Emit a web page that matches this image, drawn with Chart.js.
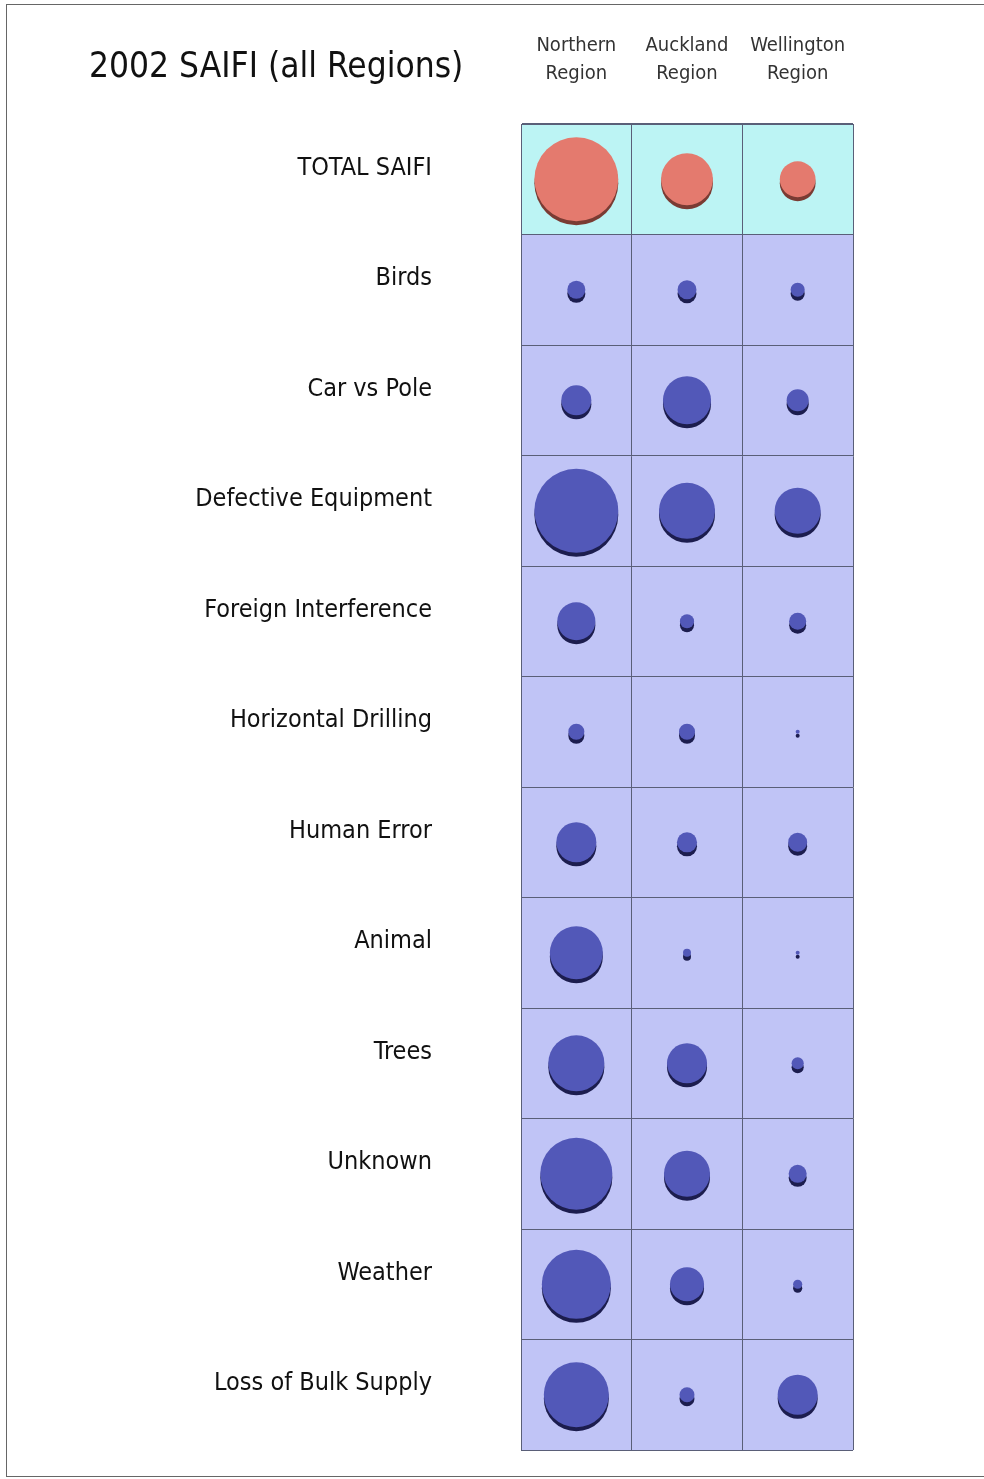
<!DOCTYPE html>
<html>
<head>
<meta charset="utf-8">
<title>2002 SAIFI (all Regions)</title>
<script src="https://cdn.jsdelivr.net/npm/chart.js@4.4.1/dist/chart.umd.min.js"></script>
<style>
    html, body {
        margin: 0;
        padding: 0;
        background: #ffffff;
        overflow: hidden;
    }
    #wrap {
        position: relative;
        width: 984px;
        height: 1479px;
        overflow: hidden;
    }
    #frame {
        position: absolute;
        left: 6px;
        top: 4px;
        width: 1000px;
        height: 1473px;
        border: 1.5px solid #666;
        box-sizing: border-box;
    }
    #saifi-chart {
        position: absolute;
        left: 0;
        top: 0;
    }
</style>
</head>
<body>
<div id="wrap">
    <div id="frame"></div>
    <!-- canvas runs a little past the page bottom: the bubble overflow reserve sits there -->
    <canvas id="saifi-chart" width="984" height="1492"></canvas>
</div>
<script>
// Regions (columns) and interruption causes (rows)
const regions = ["Northern Region", "Auckland Region", "Wellington Region"];
const causes = [
    "TOTAL SAIFI", "Birds", "Car vs Pole", "Defective Equipment",
    "Foreign Interference", "Horizontal Drilling", "Human Error", "Animal",
    "Trees", "Unknown", "Weather", "Loss of Bulk Supply"
];

// SAIFI per cause, one array per region (same order as causes)
const northern = [1.10, 0.051, 0.141, 1.10, 0.226, 0.040, 0.250, 0.439, 0.490, 0.810, 0.744, 0.660];
const auckland = [0.42, 0.056, 0.360, 0.490, 0.031, 0.040, 0.063, 0.010, 0.250, 0.331, 0.181, 0.035];
const wellington = [0.20, 0.031, 0.076, 0.331, 0.045, 0.0025, 0.056, 0.0025, 0.023, 0.051, 0.013, 0.250];

// bubble area is proportional to the value
const RADIUS_SCALE = 40;
const regionValues = [northern, auckland, wellington];

function bubblePoints(rowFilter) {
    const points = [];
    regionValues.forEach((values, col) => {
        values.forEach((v, row) => {
            if (!rowFilter(row)) return;
            points.push({ x: regions[col], y: causes[row], v: v, r: RADIUS_SCALE * Math.sqrt(v) });
        });
    });
    return points;
}

// Cell backgrounds, heading and the drop shadow under each disc
const gridPlugin = {
    id: "gridCells",
    beforeDraw(chart) {
        const { ctx, chartArea } = chart;
        const rowHeight = (chartArea.bottom - chartArea.top) / causes.length;
        ctx.save();
        ctx.fillStyle = "#c0c4f6";
        ctx.fillRect(chartArea.left, chartArea.top, chartArea.right - chartArea.left, chartArea.bottom - chartArea.top);
        ctx.fillStyle = "#bcf4f4";
        ctx.fillRect(chartArea.left, chartArea.top, chartArea.right - chartArea.left, rowHeight);
        ctx.restore();
    },
    afterDraw(chart) {
        const ctx = chart.ctx;
        ctx.save();
        ctx.fillStyle = "#111111";
        ctx.font = "35px 'DejaVu Sans Condensed', 'DejaVu Sans', sans-serif";
        ctx.textBaseline = "alphabetic";
        ctx.fillText("2002 SAIFI (all Regions)", 89, 77);
        ctx.restore();
    },
    beforeDatasetDraw(chart, args) {
        const ds = chart.data.datasets[args.index];
        chart.ctx.save();
        chart.ctx.shadowColor = ds.shadowColor;
        chart.ctx.shadowOffsetX = 0;
        chart.ctx.shadowOffsetY = 4;
        chart.ctx.shadowBlur = 0;
    },
    afterDatasetDraw(chart) {
        chart.ctx.restore();
    }
};

const ctx = document.getElementById("saifi-chart").getContext("2d");
new Chart(ctx, {
    type: "bubble",
    data: {
        datasets: [
            {
                label: "Total",
                data: bubblePoints((row) => row === 0),
                backgroundColor: "#e47a6e",
                borderWidth: 0,
                shadowColor: "#7a3b33"
            },
            {
                label: "Causes",
                data: bubblePoints((row) => row > 0),
                backgroundColor: "#5258b8",
                borderWidth: 0,
                shadowColor: "#1c1d4e"
            }
        ]
    },
    options: {
        responsive: false,
        animation: false,
        layout: {
            padding: { top: 0, left: 0, right: 131, bottom: 0 }
        },
        plugins: {
            legend: { display: false },
            tooltip: { enabled: false }
        },
        scales: {
            x: {
                type: "category",
                labels: regions,
                position: "top",
                offset: true,
                grid: { offset: true, color: "#5a5f78", lineWidth: 1, drawTicks: false },
                border: { color: "#5a5f78" },
                ticks: {
                    color: "#333333",
                    padding: 36,
                    maxRotation: 0,
                    font: { family: "'DejaVu Sans Condensed', 'DejaVu Sans', sans-serif", size: 20, lineHeight: 1.4 },
                    callback: function (value) {
                        return this.getLabelForValue(value).split(" ");
                    }
                },
                afterFit(scale) {
                    scale.height = 124;
                    scale.paddingLeft = 0;
                    scale.paddingRight = 0;
                }
            },
            y: {
                type: "category",
                labels: causes,
                offset: true,
                grid: { offset: true, color: "#5a5f78", lineWidth: 1, drawTicks: false },
                border: { color: "#5a5f78" },
                ticks: {
                    color: "#111111",
                    padding: 89,
                    labelOffset: -11,
                    autoSkip: false,
                    font: { family: "'DejaVu Sans Condensed', 'DejaVu Sans', sans-serif", size: 25 }
                },
                afterFit(scale) {
                    scale.width = 521;
                    scale.paddingTop = 0;
                    scale.paddingBottom = 0;
                }
            }
        }
    },
    plugins: [gridPlugin]
});
</script>
</body>
</html>
